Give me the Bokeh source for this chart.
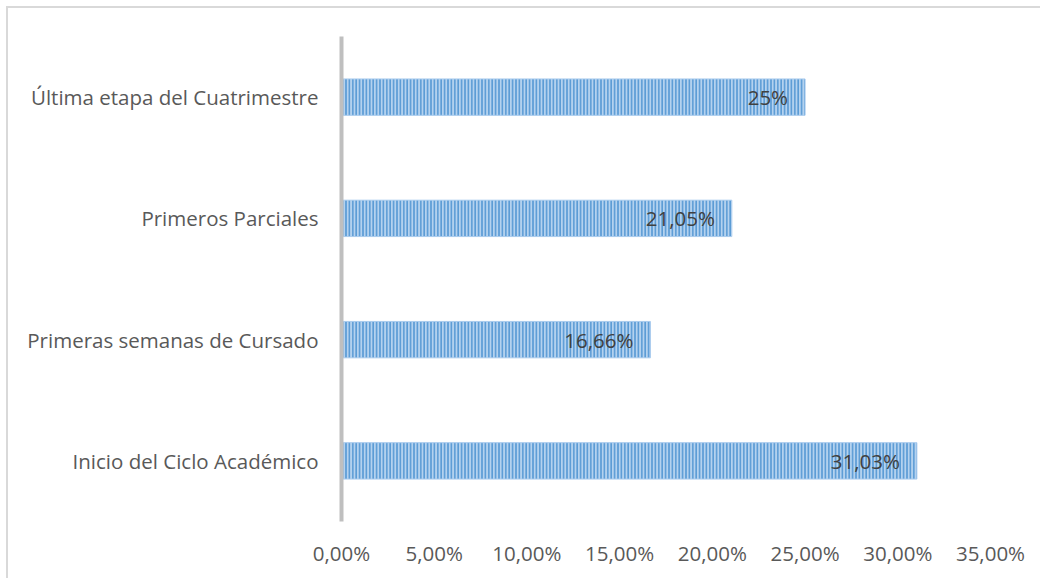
from bokeh.plotting import figure
from bokeh.models import FixedTicker, ColumnDataSource, FactorRange, Range1d
from bokeh.core.properties import value
from bokeh.embed import file_html
from bokeh.resources import INLINE

categories = ["Inicio del Ciclo Académico", "Primeras semanas de Cursado",
              "Primeros Parciales", "Última etapa del Cuatrimestre"]
values = [31.03, 16.66, 21.05, 25.0]
value_labels = ["31,03%", "16,66%", "21,05%", "25%"]
x_ticks = [0, 5, 10, 15, 20, 25, 30, 35]
x_tick_labels = ["0,00%", "5,00%", "10,00%", "15,00%", "20,00%", "25,00%", "30,00%", "35,00%"]

FONT = "Open Sans"

p = figure(width=1040, height=578, output_backend="svg", toolbar_location=None,
           y_range=FactorRange(factors=categories), x_range=Range1d(0, 35),
           min_border_left=341, min_border_right=50, min_border_top=36, min_border_bottom=57)
p.outline_line_color = None
p.background_fill_color = "white"
p.border_fill_color = None
p.styles = {
    "background-color": "white",
    "background-image": "linear-gradient(#d9d9d9, #d9d9d9), linear-gradient(#d9d9d9, #d9d9d9)",
    "background-position": "6px 6px, 6px 6px",
    "background-size": "1034px 2px, 2px 572px",
    "background-repeat": "no-repeat, no-repeat",
}
p.grid.visible = False

src = ColumnDataSource(dict(cat=categories, val=values, lab=value_labels))
p.hbar(y="cat", right="val", left=0, height=0.3, source=src,
       fill_color="#b4d2ef", line_color="#a9cbed", line_width=1,
       hatch_pattern="vertical_line", hatch_color="#5b9bd5",
       hatch_weight=1.8, hatch_scale=3.4)

p.text(x="val", y="cat", text="lab", source=src, x_offset=-17,
       text_align="right", text_baseline="middle",
       text_font=value(FONT), text_font_size="20.5px", text_color="#404040")

# y axis
p.yaxis.axis_line_color = "#bfbfbf"
p.yaxis.axis_line_width = 4
p.yaxis.major_tick_line_color = None
p.yaxis.minor_tick_line_color = None
p.yaxis.major_label_standoff = 17
p.yaxis.major_label_text_font = FONT
p.yaxis.major_label_text_font_size = "20.5px"
p.yaxis.major_label_text_color = "#595959"

# x axis
p.xaxis.ticker = FixedTicker(ticks=x_ticks)
p.xaxis.major_label_overrides = {t: l for t, l in zip(x_ticks, x_tick_labels)}
p.xaxis.axis_line_color = None
p.xaxis.major_tick_line_color = None
p.xaxis.minor_tick_line_color = None
p.xaxis.major_label_standoff = 11
p.xaxis.major_label_text_font = FONT
p.xaxis.major_label_text_font_size = "20.5px"
p.xaxis.major_label_text_color = "#595959"

open("out.html", "w").write(file_html(p, INLINE))
